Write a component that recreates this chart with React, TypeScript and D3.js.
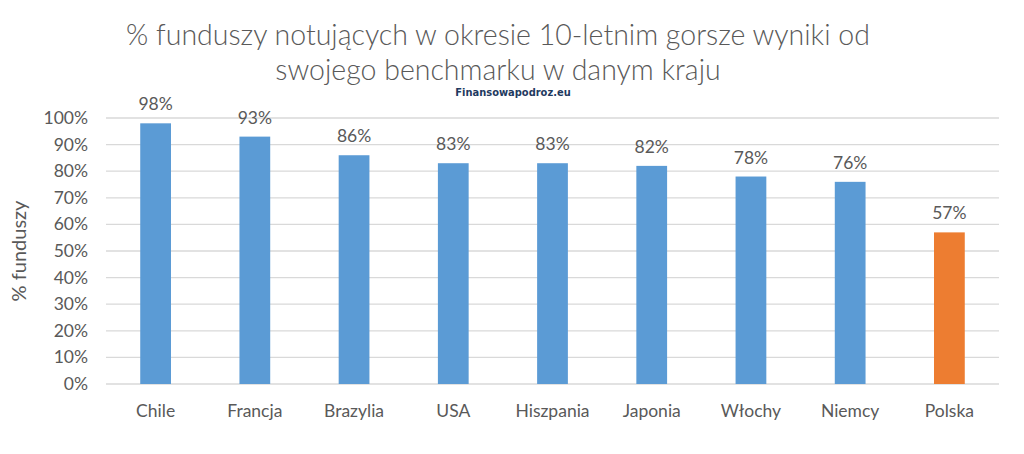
import * as d3 from "d3";
import { useEffect, useRef } from "react";

const countries = ["Chile", "Francja", "Brazylia", "USA", "Hiszpania", "Japonia", "Włochy", "Niemcy", "Polska"];
const shares = [98, 93, 86, 83, 83, 82, 78, 76, 57];
const highlight = ["Polska"];
const yTicks = [0, 10, 20, 30, 40, 50, 60, 70, 80, 90, 100];
const titleLines = ["% funduszy notujących w okresie 10-letnim gorsze wyniki od", "swojego benchmarku w danym kraju"];

const W = 1024;
const H = 454;
const FONT = "Lato, 'Noto Sans', sans-serif";
const TEXT = "#595959";

export default function App() {
	const svgRef = useRef<SVGSVGElement>(null);

	useEffect(() => {
		if (!svgRef.current) return;
		const svg = d3.select(svgRef.current);
		svg.selectAll("*").remove();

		const margin = { top: 118, right: 25, bottom: 70, left: 106 };
		const x = d3
			.scaleBand()
			.domain(countries)
			.range([margin.left, W - margin.right])
			.paddingInner(0.69)
			.paddingOuter(0.345);
		const y = d3.scaleLinear().domain([0, 100]).range([H - margin.bottom, margin.top]);

		// gridlines
		svg
			.append("g")
			.selectAll("line")
			.data(yTicks)
			.enter()
			.append("line")
			.attr("x1", margin.left)
			.attr("x2", W - margin.right)
			.attr("y1", (d) => y(d))
			.attr("y2", (d) => y(d))
			.attr("stroke", "#D9D9D9")
			.attr("stroke-width", 1.3);

		// y labels
		svg
			.append("g")
			.selectAll("text")
			.data(yTicks)
			.enter()
			.append("text")
			.attr("x", 88)
			.attr("y", (d) => y(d) + 6)
			.attr("text-anchor", "end")
			.style("font-family", FONT)
			.style("font-size", "17.5px")
			.style("fill", TEXT)
			.text((d) => `${d}%`);

		// bars
		svg
			.append("g")
			.selectAll("rect")
			.data(countries)
			.enter()
			.append("rect")
			.attr("x", (d) => x(d) ?? 0)
			.attr("y", (_, i) => y(shares[i]))
			.attr("width", x.bandwidth())
			.attr("height", (_, i) => y(0) - y(shares[i]))
			.attr("fill", (d) => (highlight.includes(d) ? "#ED7D31" : "#5B9BD5"));

		// value labels
		svg
			.append("g")
			.selectAll("text")
			.data(countries)
			.enter()
			.append("text")
			.attr("x", (d) => (x(d) ?? 0) + x.bandwidth() / 2)
			.attr("y", (_, i) => y(shares[i]) - 13)
			.attr("text-anchor", "middle")
			.style("font-family", FONT)
			.style("font-size", "17.5px")
			.style("fill", TEXT)
			.text((_, i) => `${shares[i]}%`);

		// x labels
		svg
			.append("g")
			.selectAll("text")
			.data(countries)
			.enter()
			.append("text")
			.attr("x", (d) => (x(d) ?? 0) + x.bandwidth() / 2)
			.attr("y", 417)
			.attr("text-anchor", "middle")
			.style("font-family", FONT)
			.style("font-size", "17.5px")
			.style("fill", TEXT)
			.text((d) => d);

		// y axis title
		svg
			.append("text")
			.attr("transform", `translate(26,${y(50)}) rotate(-90)`)
			.attr("text-anchor", "middle")
			.style("font-family", FONT)
			.style("font-size", "20px")
			.style("fill", TEXT)
			.text("% funduszy");

		// title
		titleLines.forEach((line, i) => {
			svg
				.append("text")
				.attr("x", 498)
				.attr("y", 45 + i * 35)
				.attr("text-anchor", "middle")
				.style("font-family", FONT)
				.style("font-size", "28.5px")
				.style("font-weight", 300)
				.style("fill", TEXT)
				.text(line);
		});

		// watermark
		svg
			.append("text")
			.attr("x", 513)
			.attr("y", 96)
			.attr("text-anchor", "middle")
			.style("font-family", "'DejaVu Sans Condensed', 'DejaVu Sans', sans-serif")
			.style("font-size", "11px")
			.style("font-weight", "bold")
			.style("fill", "#1F3A5F")
			.text("Finansowapodroz.eu");
	}, []);

	return (
		<div style={{ position: "absolute", left: 0, top: 0, width: W, height: H, background: "#fff" }}>
			<svg ref={svgRef} width={W} height={H} />
		</div>
	);
}
